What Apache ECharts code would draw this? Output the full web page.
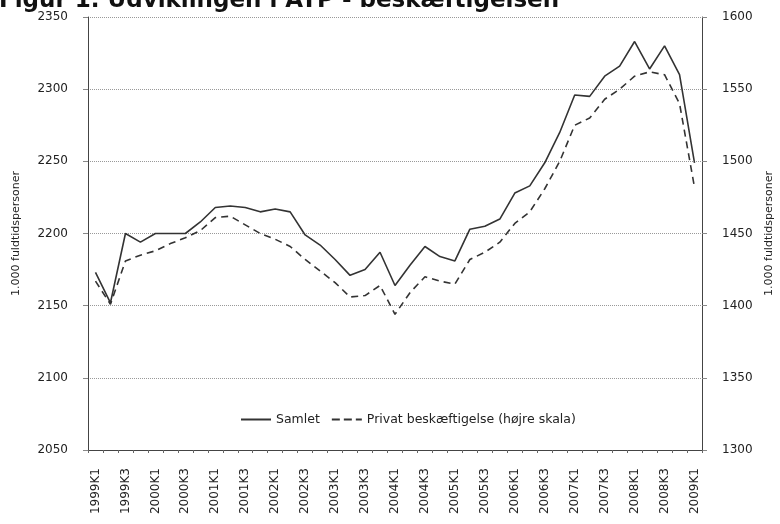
<!DOCTYPE html>
<html>
<head>
<meta charset="utf-8">
<script src="https://cdn.jsdelivr.net/npm/echarts@6/dist/echarts.min.js"></script>
<style>html,body{margin:0;padding:0;background:#fff}#c{width:780px;height:524px}</style>
</head>
<body>
<div id="c"></div>
<script>
const categories = [];
for (let y = 1999; y <= 2009; y++) {
  for (let q = 1; q <= 4; q++) {
    if (y === 2009 && q > 1) break;
    categories.push(y + 'K' + q);
  }
}
const samlet = [2173, 2152, 2200, 2194, 2200, 2200, 2200, 2208, 2218, 2219,
  2218, 2215, 2217, 2215, 2199, 2192, 2182, 2171, 2175, 2187,
  2164, 2178, 2191, 2184, 2181, 2203, 2205, 2210, 2228, 2233,
  2249, 2270, 2296, 2295, 2309, 2316, 2333, 2314, 2330, 2310, 2249];
const privat = [1417, 1401, 1431, 1435, 1438, 1443, 1447, 1452, 1461, 1462,
  1456, 1450, 1446, 1441, 1432, 1424, 1416, 1406, 1407, 1414,
  1394, 1409, 1420, 1417, 1415, 1432, 1437, 1444, 1457, 1465,
  1481, 1500, 1525, 1530, 1543, 1550, 1559, 1562, 1560, 1540, 1482];
const leftTicks = [2050, 2350, 50];
const rightTicks = [1300, 1600, 50];

const font = 'DejaVu Sans';
const chart = echarts.init(document.getElementById('c'), null, {renderer: 'canvas'});
chart.setOption({
  animation: false,
  backgroundColor: '#fff',
  title: {
    text: 'Figur 1. Udviklingen i ATP - beskæftigelsen',
    left: -6, top: -15,
    textStyle: {fontFamily: font, fontSize: 23, fontWeight: 'bold', color: '#111'}
  },
  grid: {left: 88, right: 78, top: 17, bottom: 74, containLabel: false, outerBoundsMode: 'none'},
  legend: {
    left: 236, top: 408,
    itemWidth: 30, itemHeight: 10, itemGap: 12,
    textStyle: {fontFamily: font, fontSize: 12.5, color: '#222'},
    data: [
      {name: 'Samlet', icon: 'path://M0,4L30,4L30,6L0,6Z'},
      {name: 'Privat beskæftigelse (højre skala)', icon: 'path://M0,4L8,4L8,6L0,6ZM12,4L20,4L20,6L12,6ZM24,4L30,4L30,6L24,6Z'}
    ]
  },
  xAxis: {
    type: 'category',
    data: categories,
    boundaryGap: true,
    axisLine: {lineStyle: {color: '#444', width: 1}},
    axisTick: {show: true, interval: 0, length: 3, lineStyle: {color: '#666'}},
    axisLabel: {rotate: 90, interval: 1, fontFamily: font, fontSize: 12, color: '#222', margin: 18}
  },
  yAxis: [
    {
      type: 'value', min: leftTicks[0], max: leftTicks[1], interval: leftTicks[2],
      position: 'left',
      name: '1.000 fuldtidspersoner', nameLocation: 'middle', nameGap: 66,
      nameTextStyle: {fontFamily: font, fontSize: 11, color: '#222'},
      axisLine: {show: true, lineStyle: {color: '#444', width: 1}},
      axisTick: {show: true, length: 5, lineStyle: {color: '#888'}},
      axisLabel: {fontFamily: font, fontSize: 12, color: '#222', margin: 20, formatter: v => String(v)},
      splitLine: {show: true, lineStyle: {color: '#999', type: 'dotted', width: 1}}
    },
    {
      type: 'value', min: rightTicks[0], max: rightTicks[1], interval: rightTicks[2],
      position: 'right',
      name: '1.000 fuldtidspersoner', nameLocation: 'middle', nameGap: 55,
      nameTextStyle: {fontFamily: font, fontSize: 11, color: '#222'},
      axisLine: {show: true, lineStyle: {color: '#444', width: 1}},
      axisTick: {show: true, length: 5, lineStyle: {color: '#888'}},
      axisLabel: {fontFamily: font, fontSize: 12, color: '#222', margin: 20, formatter: v => String(v)},
      splitLine: {show: false}
    }
  ],
  series: [
    {
      name: 'Samlet', type: 'line', yAxisIndex: 0, data: samlet,
      symbol: 'none', smooth: false,
      itemStyle: {color: '#333'},
      lineStyle: {color: '#333', width: 1.6}
    },
    {
      name: 'Privat beskæftigelse (højre skala)', type: 'line', yAxisIndex: 1, data: privat,
      symbol: 'none', smooth: false,
      itemStyle: {color: '#333'},
      lineStyle: {color: '#333', width: 1.6, type: [7, 5]}
    }
  ]
});
</script>
</body>
</html>
